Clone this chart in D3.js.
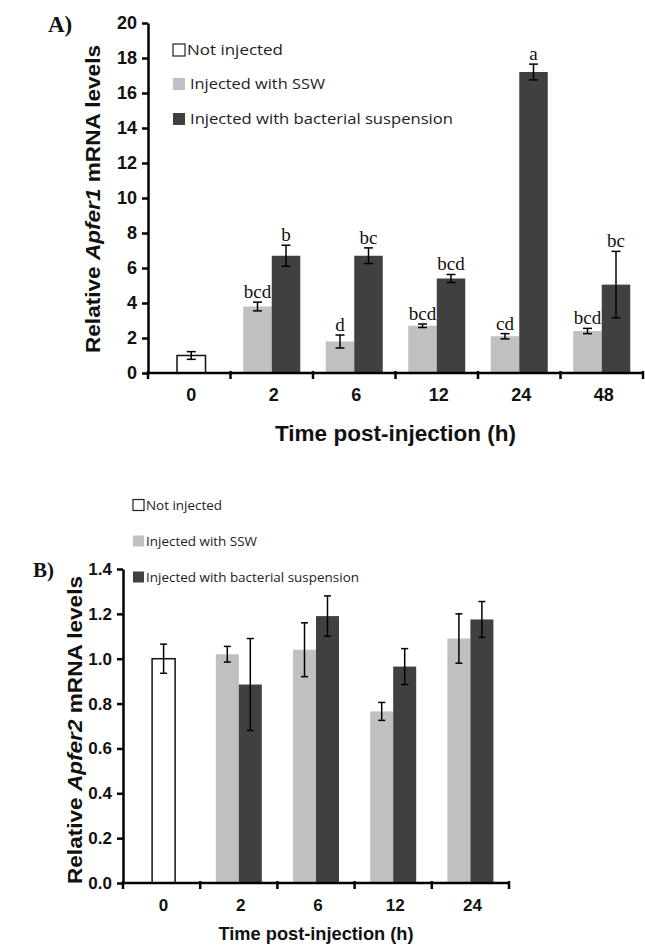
<!DOCTYPE html>
<meta charset="utf-8">
<style>
  body { margin: 0; background: #fff; }
  .axis path, .axis line { stroke: #000; stroke-width: 2.5px; }
  .axis text { font-family: "Liberation Sans", Arial, sans-serif; font-weight: bold; fill: #111; }
  .title { font-family: "Liberation Sans", Arial, sans-serif; font-weight: bold; fill: #111; }
  .legend text { font-family: "Open Sans", sans-serif; fill: #222; }
  .panel { font-family: "Liberation Serif", "Times New Roman", serif; font-weight: bold; fill: #111; }
  .sig { font-family: "Liberation Serif", "Times New Roman", serif; fill: #111; }
  .err { stroke: #000; stroke-width: 1.5px; }
</style>
<svg width="645" height="948"></svg>
<script src="https://d3js.org/d3.v7.min.js"></script>
<script>

  // Panel A: Apfer1
  var catsA = ["0", "2", "6", "12", "24", "48"];
  var ctrlA = [1.0, null, null, null, null, null];
  var ctrlErrA = [0.22, null, null, null, null, null];
  var sswA = [null, 3.8, 1.8, 2.7, 2.1, 2.4];
  var sswErrA = [null, 0.25, 0.37, 0.1, 0.15, 0.15];
  var bacA = [null, 6.7, 6.7, 5.4, 17.2, 5.05];
  var bacErrA = [null, 0.6, 0.45, 0.23, 0.45, 1.9];
  var sswSigA = ["", "bcd", "d", "bcd", "cd", "bcd"];
  var bacSigA = ["", "b", "bc", "bcd", "a", "bc"];
  var ticksA = [0, 2, 4, 6, 8, 10, 12, 14, 16, 18, 20];

  // Panel B: Apfer2
  var catsB = ["0", "2", "6", "12", "24"];
  var ctrlB = [1.0, null, null, null, null];
  var ctrlErrB = [0.065, null, null, null, null];
  var sswB = [null, 1.02, 1.04, 0.765, 1.09];
  var sswErrB = [null, 0.035, 0.12, 0.04, 0.11];
  var bacB = [null, 0.885, 1.19, 0.965, 1.175];
  var bacErrB = [null, 0.205, 0.09, 0.08, 0.08];
  var ticksB = [0, 0.2, 0.4, 0.6, 0.8, 1.0, 1.2, 1.4];

  var legendLabels = ["Not injected", "Injected with SSW", "Injected with bacterial suspension"];
  var colors = ["#ffffff", "#c0c0c0", "#404040"];

  var svg = d3.select("svg");

  function drawChart(o) {
    var g = svg.append("g");

    var x = d3.scaleBand().domain(o.cats).range(o.xRange);
    var y = d3.scaleLinear().domain(o.yDomain).range(o.yRange);
    var bw = o.barW;

    // build rows: one per bar
    var rows = [];
    o.cats.forEach(function (c, i) {
      var mid = x(c) + x.bandwidth() / 2;
      if (o.ctrl[i] != null) rows.push({ x0: mid - bw / 2 + o.ctrlShift, v: o.ctrl[i], e: o.ctrlErr[i], s: 0, sig: "" });
      if (o.ssw[i] != null) rows.push({ x0: mid - bw, v: o.ssw[i], e: o.sswErr[i], s: 1, sig: o.sswSig ? o.sswSig[i] : "" });
      if (o.bac[i] != null) rows.push({ x0: mid, v: o.bac[i], e: o.bacErr[i], s: 2, sig: o.bacSig ? o.bacSig[i] : "" });
    });

    g.selectAll("rect.bar")
      .data(rows)
      .enter().append("rect")
      .attr("class", "bar")
      .attr("x", function (d) { return d.x0; })
      .attr("y", function (d) { return y(d.v); })
      .attr("width", bw)
      .attr("height", function (d) { return y(0) - y(d.v); })
      .attr("fill", function (d) { return colors[d.s]; })
      .attr("stroke", function (d) { return d.s == 0 ? "#111" : "none"; })
      .attr("stroke-width", 1.5);

    // error bars
    var eb = g.selectAll("g.eb").data(rows).enter().append("g").attr("class", "err");
    eb.append("line")
      .attr("x1", function (d) { return d.x0 + bw / 2; })
      .attr("x2", function (d) { return d.x0 + bw / 2; })
      .attr("y1", function (d) { return y(d.v - d.e); })
      .attr("y2", function (d) { return y(d.v + d.e); });
    [-1, 1].forEach(function (sgn) {
      eb.append("line")
        .attr("x1", function (d) { return d.x0 + bw / 2 - o.cap; })
        .attr("x2", function (d) { return d.x0 + bw / 2 + o.cap; })
        .attr("y1", function (d) { return y(d.v + sgn * d.e); })
        .attr("y2", function (d) { return y(d.v + sgn * d.e); });
    });

    // significance letters
    g.selectAll("text.sig")
      .data(rows.filter(function (d) { return d.sig; }))
      .enter().append("text")
      .attr("class", "sig")
      .attr("x", function (d) { return d.x0 + bw / 2; })
      .attr("y", function (d) { return y(d.v + d.e) - 4; })
      .attr("text-anchor", "middle")
      .style("font-size", "19px")
      .text(function (d) { return d.sig; });

    // axes
    g.append("g")
      .attr("class", "axis")
      .attr("transform", "translate(" + o.xRange[0] + ",0)")
      .call(d3.axisLeft(y).tickValues(o.ticks).tickSize(6).tickSizeOuter(0).tickFormat(o.fmt))
      .selectAll("text").style("font-size", o.tickFont + "px").attr("dx", "-2");

    var xa = g.append("g")
      .attr("class", "axis")
      .attr("transform", "translate(0," + o.yRange[0] + ")");
    xa.append("path").attr("d", "M" + o.xRange[0] + ",0H" + o.xRange[1]);
    var bounds = o.cats.map(function (c) { return x(c); }).concat([o.xRange[1]]);
    xa.selectAll("line.tk").data(bounds).enter().append("line")
      .attr("x1", function (d) { return d; }).attr("x2", function (d) { return d; })
      .attr("y1", -2).attr("y2", 6);
    xa.selectAll("text").data(o.cats).enter().append("text")
      .attr("x", function (d) { return x(d) + x.bandwidth() / 2 + o.ctrlShift; })
      .attr("y", o.xLabelDy)
      .attr("text-anchor", "middle")
      .style("font-size", o.tickFont + "px")
      .text(function (d) { return d; });

    // axis titles
    g.append("text")
      .attr("class", "title")
      .attr("x", (o.xRange[0] + o.xRange[1]) / 2)
      .attr("y", o.xTitleY)
      .attr("text-anchor", "middle")
      .attr("textLength", o.xTitleLen)
      .attr("lengthAdjust", "spacingAndGlyphs")
      .style("font-size", o.xTitleFont + "px")
      .text("Time post-injection (h)");

    var yt = g.append("text")
      .attr("class", "title")
      .attr("transform", "translate(" + o.yTitleX + "," + o.yTitleY + ") rotate(-90)")
      .attr("text-anchor", "middle")
      .attr("textLength", o.yTitleLen)
      .attr("lengthAdjust", "spacingAndGlyphs")
      .style("font-size", "21px");
    yt.append("tspan").text("Relative ");
    yt.append("tspan").style("font-style", "italic").text(o.gene);
    yt.append("tspan").text(" mRNA levels");

    // panel label
    g.append("text")
      .attr("class", "panel")
      .attr("x", o.panelX)
      .attr("y", o.panelY)
      .style("font-size", o.panelFont + "px")
      .text(o.panel);

    // legend
    var lg = g.append("g").attr("class", "legend");
    legendLabels.forEach(function (t, i) {
      var cy = o.legY[i];
      lg.append("rect")
        .attr("x", o.legX)
        .attr("y", cy - o.legBox / 2)
        .attr("width", o.legBox)
        .attr("height", o.legBox)
        .attr("fill", colors[i])
        .attr("stroke", i == 0 ? "#222" : "none")
        .attr("stroke-width", 1.2);
      lg.append("text")
        .attr("x", o.legTextX[i])
        .attr("y", cy + o.legFont * 0.36)
        .attr("textLength", o.legLen[i])
        .attr("lengthAdjust", "spacingAndGlyphs")
        .style("font-size", o.legFont + "px")
        .text(t);
    });
  }

  drawChart({
    cats: catsA, ctrl: ctrlA, ctrlErr: ctrlErrA, ssw: sswA, sswErr: sswErrA,
    bac: bacA, bacErr: bacErrA, sswSig: sswSigA, bacSig: bacSigA,
    ticks: ticksA, fmt: d3.format("d"), yDomain: [0, 20],
    xRange: [148, 643], yRange: [373, 23], barW: 28.5, ctrlShift: 2, cap: 4.5,
    tickFont: 18, xLabelDy: 28, xTitleY: 441, xTitleFont: 22, xTitleLen: 241,
    yTitleX: 100, yTitleY: 199, yTitleLen: 308, gene: "Apfer1",
    panel: "A)", panelX: 48, panelY: 32, panelFont: 23,
    legX: 173, legBox: 12, legY: [50, 84, 119], legTextX: [187, 190, 190], legLen: [96, 135, 263], legFont: 15
  });

  drawChart({
    cats: catsB, ctrl: ctrlB, ctrlErr: ctrlErrB, ssw: sswB, sswErr: sswErrB,
    bac: bacB, bacErr: bacErrB, sswSig: null, bacSig: null,
    ticks: ticksB, fmt: d3.format(".1f"), yDomain: [0, 1.4],
    xRange: [123, 509], yRange: [883, 569], barW: 23, ctrlShift: 2, cap: 3.5,
    tickFont: 17, xLabelDy: 28, xTitleY: 940, xTitleFont: 19, xTitleLen: 195,
    yTitleX: 82, yTitleY: 730, yTitleLen: 308, gene: "Apfer2",
    panel: "B)", panelX: 33, panelY: 577, panelFont: 21,
    legX: 133, legBox: 11, legY: [505, 541, 577], legTextX: [146, 146, 146], legLen: [76, 111, 213], legFont: 13
  });

</script>
